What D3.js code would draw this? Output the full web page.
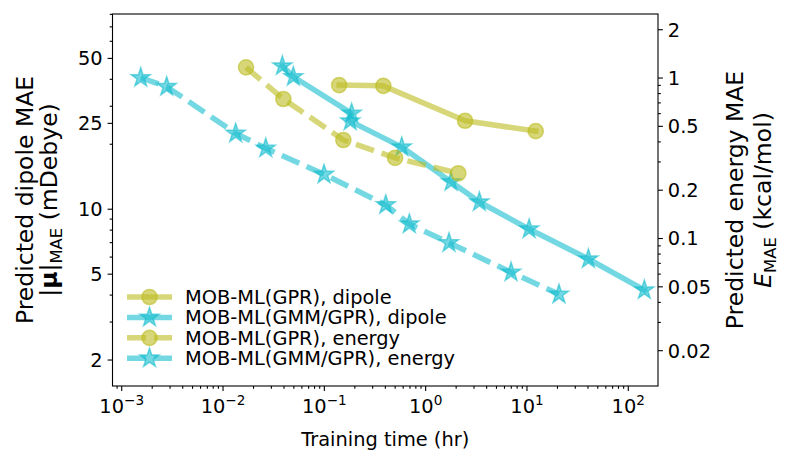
<!DOCTYPE html>
<html><head><meta charset="utf-8">
<script src="https://cdn.jsdelivr.net/npm/d3@7"></script>
<style>body{margin:0;background:#fff}svg{display:block}text{font-family:"DejaVu Sans",sans-serif;fill:#000}</style>
</head><body><svg id="c" width="788" height="465"></svg>
<script>
// ---- data ----
const xLim = [8.11e-4, 196.5];
const dipoleLim = [1.516, 80.3];
const energyLim = [0.01205, 2.506];
const xTicks = [1e-3, 1e-2, 1e-1, 1, 10, 100];
const xTickExp = ["−3", "−2", "−1", "0", "1", "2"];
const dipoleTicks = [2, 5, 10, 25, 50];
const energyTicks = [0.02, 0.05, 0.1, 0.2, 0.5, 1, 2];

const gprDipoleTime = [0.140, 0.382, 2.45, 12.2];
const gprDipole = [37.6, 37.3, 25.7, 23.0];
const gmmDipoleTime = [0.0385, 0.0494, 0.186, 0.180, 0.581, 1.78, 3.39, 10.5, 40.4, 144];
const gmmDipole = [46.1, 41.1, 27.8, 25.6, 19.4, 13.4, 10.8, 8.09, 5.88, 4.22];
const gprEnergyTime = [0.01687, 0.0394, 0.154, 0.499, 2.10];
const gprEnergy = [1.166, 0.740, 0.411, 0.318, 0.255];
const gmmEnergyTime = [1.54e-3, 2.78e-3, 0.01333, 0.0264, 0.0993, 0.404, 0.690, 1.70, 6.97, 20.7];
const gmmEnergy = [1.004, 0.883, 0.452, 0.365, 0.251, 0.162, 0.123, 0.094, 0.0616, 0.0449];

const legendLabels = ["MOB-ML(GPR), dipole", "MOB-ML(GMM/GPR), dipole", "MOB-ML(GPR), energy", "MOB-ML(GMM/GPR), energy"];

// ---- layout ----
const L = 112.5, R = 658, T = 14, B = 386;
const OLIVE = "rgba(188,189,34,0.6)", CYAN = "rgba(23,190,207,0.6)";
const LW = 5.5, DASH = "19,8";
const FS = 19.4, LFS = 23.5;

const svg = d3.select("#c");
const x = d3.scaleLog().domain(xLim).range([L, R]);
const yL = d3.scaleLog().domain(dipoleLim).range([B, T]);
const yR = d3.scaleLog().domain(energyLim).range([B, T]);

function minorTicks(lim, majors) {
  const out = [];
  for (let e = Math.floor(Math.log10(lim[0])); e <= Math.ceil(Math.log10(lim[1])); e++) {
    for (let m = 1; m < 10; m++) {
      const v = m * Math.pow(10, e);
      if (v >= lim[0] && v <= lim[1] && !majors.some(t => Math.abs(t - v) / v < 1e-6)) out.push(v);
    }
  }
  return out;
}

const plot = svg.append("g");
function star(Ro) {
  const Ri = Ro * 0.381966, pts = [];
  for (let k = 0; k < 10; k++) {
    const a = -Math.PI / 2 + k * Math.PI / 5, r = k % 2 ? Ri : Ro;
    pts.push([r * Math.cos(a), r * Math.sin(a)]);
  }
  return "M" + pts.map(p => p[0].toFixed(2) + "," + p[1].toFixed(2)).join("L") + "Z";
}
function drawMarker(g, type, color, cx, cy) {
  if (type === "o") {
    g.append("circle").attr("cx", cx).attr("cy", cy).attr("r", 7.6)
      .attr("fill", color).attr("stroke", color).attr("stroke-width", 1.5);
  } else {
    g.append("path").attr("d", star(10)).attr("transform", `translate(${cx},${cy})`)
      .attr("fill", color).attr("stroke", color).attr("stroke-width", 1.5).attr("stroke-linejoin", "miter");
  }
}
function series(xs, ys, yScale, color, dashed, marker) {
  const g = plot.append("g");
  const line = d3.line().x(d => x(d[0])).y(d => yScale(d[1]));
  const data = xs.map((v, i) => [v, ys[i]]);
  g.append("path").attr("d", line(data)).attr("fill", "none").attr("stroke", color)
    .attr("stroke-width", LW).attr("stroke-linejoin", "round")
    .attr("stroke-linecap", dashed ? "butt" : "square")
    .attr("stroke-dasharray", dashed ? DASH : null);
  data.forEach(d => drawMarker(g, marker, color, x(d[0]), yScale(d[1])));
}
series(gprDipoleTime, gprDipole, yL, OLIVE, false, "o");
series(gmmDipoleTime, gmmDipole, yL, CYAN, false, "*");
series(gprEnergyTime, gprEnergy, yR, OLIVE, true, "o");
series(gmmEnergyTime, gmmEnergy, yR, CYAN, true, "*");

// ---- axes frame ----
svg.append("rect").attr("x", L).attr("y", T).attr("width", R - L).attr("height", B - T)
  .attr("fill", "none").attr("stroke", "#000").attr("stroke-width", 1.1);

const ax = svg.append("g");
function tickLine(x1, y1, x2, y2) {
  ax.append("line").attr("x1", x1).attr("y1", y1).attr("x2", x2).attr("y2", y2)
    .attr("stroke", "#000").attr("stroke-width", 1.1);
}
const MAJ = 4.9, MIN = 2.8, PAD = 4.9;
// x axis
xTicks.forEach((t, i) => {
  const px = x(t);
  tickLine(px, B, px, B + MAJ);
  const tx = ax.append("text").attr("x", px).attr("y", B + MAJ + PAD + 17).attr("text-anchor", "middle")
    .style("font-size", FS + "px");
  tx.append("tspan").text("10");
  tx.append("tspan").attr("dy", -8).style("font-size", (FS * 0.7) + "px").text(xTickExp[i]);
});
minorTicks(xLim, xTicks).forEach(t => tickLine(x(t), B, x(t), B + MIN));
// left axis
dipoleTicks.forEach(t => {
  tickLine(L - MAJ, yL(t), L, yL(t));
  ax.append("text").attr("x", L - MAJ - PAD).attr("y", yL(t)).attr("dy", "0.36em")
    .attr("text-anchor", "end").style("font-size", FS + "px").text(t);
});
minorTicks(dipoleLim, dipoleTicks).forEach(t => tickLine(L - MIN, yL(t), L, yL(t)));
// right axis
energyTicks.forEach(t => {
  tickLine(R, yR(t), R + MAJ, yR(t));
  ax.append("text").attr("x", R + MAJ + PAD).attr("y", yR(t)).attr("dy", "0.36em")
    .attr("text-anchor", "start").style("font-size", FS + "px").text(t);
});
minorTicks(energyLim, energyTicks).forEach(t => tickLine(R, yR(t), R + MIN, yR(t)));

// ---- axis labels ----
ax.append("text").attr("x", (L + R) / 2).attr("y", 446).attr("text-anchor", "middle")
  .style("font-size", FS + "px").text("Training time (hr)");

const cy = (T + B) / 2;
const ll1 = ax.append("text").attr("transform", `translate(33,${cy}) rotate(-90)`).attr("text-anchor", "middle")
  .style("font-size", LFS + "px").text("Predicted dipole MAE");
const ll2 = ax.append("text").attr("transform", `translate(57,${cy}) rotate(-90)`).attr("text-anchor", "middle")
  .style("font-size", LFS + "px");
ll2.append("tspan").text("|");
ll2.append("tspan").style("font-weight", "bold").text("μ");
ll2.append("tspan").text("|");
ll2.append("tspan").attr("dy", 5).style("font-size", (LFS * 0.7) + "px").text("MAE");
ll2.append("tspan").attr("dy", -5).text(" (mDebye)");

ax.append("text").attr("transform", `translate(743,${cy}) rotate(-90)`).attr("text-anchor", "middle")
  .style("font-size", LFS + "px").text("Predicted energy MAE");
const rl2 = ax.append("text").attr("transform", `translate(771,${cy}) rotate(-90)`).attr("text-anchor", "middle")
  .style("font-size", LFS + "px");
rl2.append("tspan").style("font-style", "italic").text("E");
rl2.append("tspan").attr("dy", 5).style("font-size", (LFS * 0.7) + "px").text("MAE");
rl2.append("tspan").attr("dy", -5).text(" (kcal/mol)");

// ---- legend ----
const lg = svg.append("g");
const legColors = [OLIVE, CYAN, OLIVE, CYAN];
const legDash = [false, false, true, true];
const legMark = ["o", "*", "o", "*"];
legendLabels.forEach((lab, i) => {
  const yy = 297 + i * 20.4;
  lg.append("line").attr("x1", 127).attr("x2", 172).attr("y1", yy).attr("y2", yy)
    .attr("stroke", legColors[i]).attr("stroke-width", LW)
    .attr("stroke-dasharray", legDash[i] ? DASH : null);
  drawMarker(lg, legMark[i], legColors[i], 149.5, yy);
  lg.append("text").attr("x", 185).attr("y", yy).attr("dy", "0.36em").style("font-size", FS + "px").text(lab);
});
</script></body></html>
